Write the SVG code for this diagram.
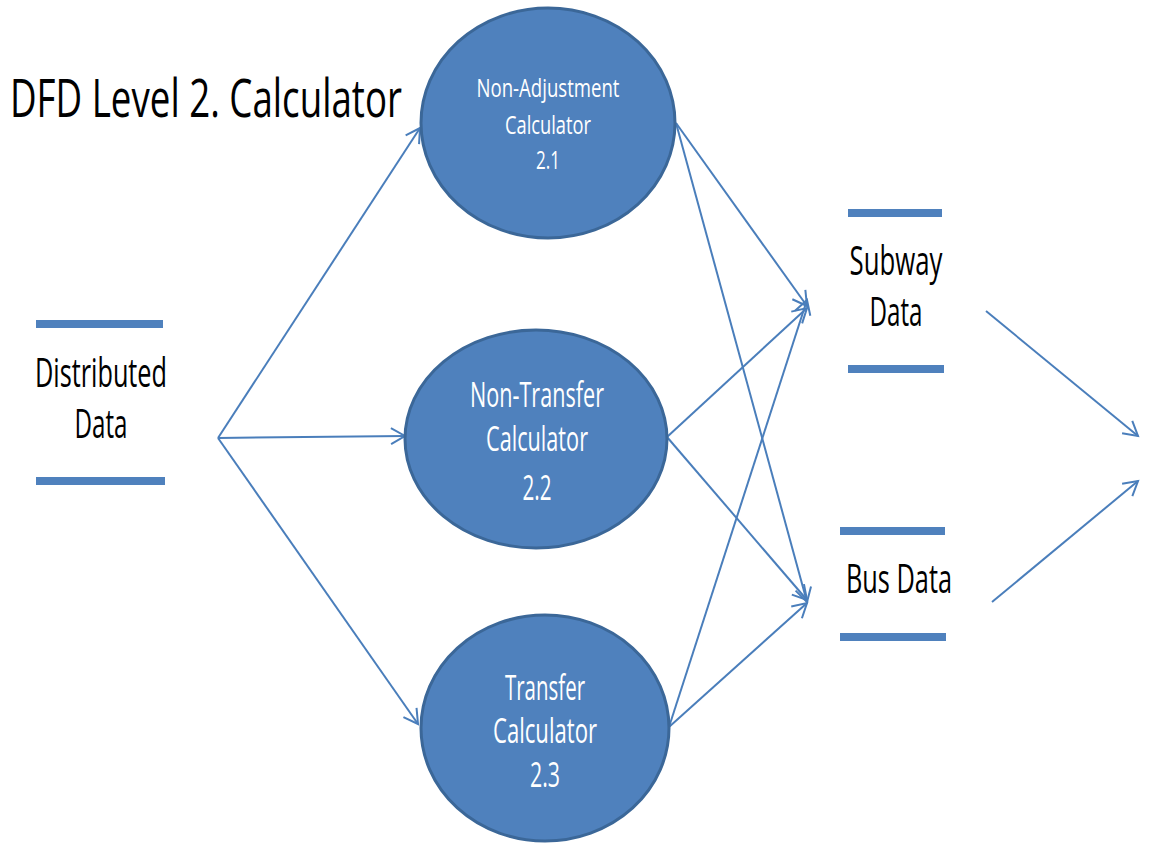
<svg xmlns="http://www.w3.org/2000/svg" width="1152" height="843" viewBox="0 0 1152 843">
<style>
.proc{fill:#4f81bd;stroke:#3b6798;stroke-width:3}
.pt{fill:#ffffff;font-family:"Open Sans","Liberation Sans",sans-serif;text-anchor:middle}
.st{fill:#000;font-family:"Open Sans","Liberation Sans",sans-serif;text-anchor:middle;font-size:41px}
.bar{stroke:#4f81bd;stroke-width:8}
.sh{stroke:#000;stroke-opacity:0.25;stroke-width:6}
.c{stroke:#4a7ebb;stroke-width:2;fill:none;marker-end:url(#ah)}
</style>
<defs>
<marker id="ah" markerUnits="userSpaceOnUse" markerWidth="20" markerHeight="20" viewBox="0 0 20 20" refX="17" refY="10" orient="auto">
<path d="M3,2 L17,10 L3,18" fill="none" stroke="#4a7ebb" stroke-width="2"/>
</marker>
<filter id="blur" x="-10%" y="-100%" width="120%" height="300%"><feGaussianBlur stdDeviation="1.5"/></filter>
</defs>
<rect width="1152" height="843" fill="#fff"/>
<text transform="translate(10,117) scale(1,1.25)" x="0" y="0" font-family="Open Sans,Liberation Sans,sans-serif" font-size="42" textLength="392" lengthAdjust="spacingAndGlyphs">DFD Level 2. Calculator</text>
<g id="connectors">
<line class="c" x1="218" y1="438" x2="420" y2="128"/>
<line class="c" x1="218" y1="438" x2="405" y2="436"/>
<line class="c" x1="218" y1="438" x2="418" y2="724"/>
<line class="c" x1="676" y1="123" x2="807" y2="306"/>
<line class="c" x1="676" y1="123" x2="807" y2="602"/>
<line class="c" x1="667" y1="437" x2="807" y2="308"/>
<line class="c" x1="667" y1="437" x2="807" y2="600"/>
<line class="c" x1="669" y1="727" x2="807" y2="300"/>
<line class="c" x1="669" y1="727" x2="807" y2="603"/>
<line class="c" x1="986" y1="311" x2="1138" y2="436"/>
<line class="c" x1="992" y1="602" x2="1138" y2="481"/>
</g>
<g id="distributed">
<line class="sh" x1="38" y1="328" x2="165" y2="328" filter="url(#blur)"/>
<line class="bar" x1="36" y1="324" x2="163" y2="324"/>
<line class="sh" x1="38" y1="485" x2="167" y2="485" filter="url(#blur)"/>
<line class="bar" x1="36" y1="481" x2="165" y2="481"/>
<text class="st" x="101" y="387" font-size="43" textLength="132" lengthAdjust="spacingAndGlyphs">Distributed</text>
<text class="st" x="101" y="438" font-size="43" textLength="53" lengthAdjust="spacingAndGlyphs">Data</text>
</g>
<g id="p21">
<ellipse class="proc" cx="548" cy="123" rx="127" ry="115"/>
<text class="pt" x="548" y="97" font-size="26" textLength="143" lengthAdjust="spacingAndGlyphs">Non-Adjustment</text>
<text class="pt" x="548" y="134" font-size="26" textLength="86" lengthAdjust="spacingAndGlyphs">Calculator</text>
<text class="pt" x="548" y="169" font-size="26" textLength="24" lengthAdjust="spacingAndGlyphs">2.1</text>
</g>
<g id="p22">
<ellipse class="proc" cx="536" cy="439" rx="131" ry="109"/>
<text class="pt" x="537" y="407" font-size="35" textLength="134" lengthAdjust="spacingAndGlyphs">Non-Transfer</text>
<text class="pt" x="537" y="451" font-size="35" textLength="102" lengthAdjust="spacingAndGlyphs">Calculator</text>
<text class="pt" x="537" y="500" font-size="35" textLength="29" lengthAdjust="spacingAndGlyphs">2.2</text>
</g>
<g id="p23">
<ellipse class="proc" cx="545" cy="728" rx="124" ry="113"/>
<text class="pt" x="545" y="700" font-size="35" textLength="80" lengthAdjust="spacingAndGlyphs">Transfer</text>
<text class="pt" x="545" y="743" font-size="35" textLength="104" lengthAdjust="spacingAndGlyphs">Calculator</text>
<text class="pt" x="545" y="787" font-size="35" textLength="30" lengthAdjust="spacingAndGlyphs">2.3</text>
</g>
<g id="subway">
<line class="sh" x1="850" y1="217" x2="944" y2="217" filter="url(#blur)"/>
<line class="bar" x1="848" y1="213" x2="942" y2="213"/>
<line class="sh" x1="850" y1="373" x2="946" y2="373" filter="url(#blur)"/>
<line class="bar" x1="848" y1="369" x2="944" y2="369"/>
<text class="st" x="896" y="275" textLength="93" lengthAdjust="spacingAndGlyphs">Subway</text>
<text class="st" x="896" y="326" textLength="53" lengthAdjust="spacingAndGlyphs">Data</text>
</g>
<g id="bus">
<line class="sh" x1="842" y1="535" x2="947" y2="535" filter="url(#blur)"/>
<line class="bar" x1="840" y1="531" x2="945" y2="531"/>
<line class="sh" x1="842" y1="641" x2="948" y2="641" filter="url(#blur)"/>
<line class="bar" x1="840" y1="637" x2="946" y2="637"/>
<text class="st" x="899" y="593" textLength="106" lengthAdjust="spacingAndGlyphs">Bus Data</text>
</g>
</svg>
